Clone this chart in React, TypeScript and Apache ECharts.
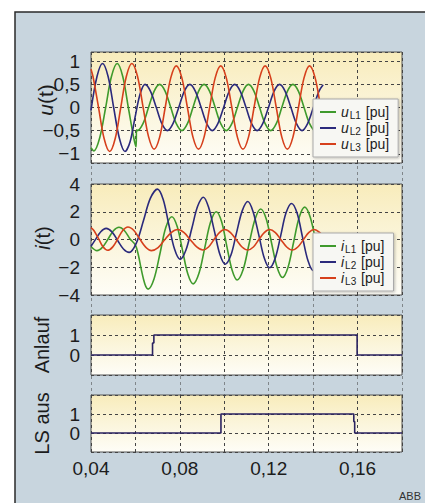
import React, { useEffect, useRef } from 'react';
import * as echarts from 'echarts';

// ---- tick labels ----
const xTickValues = [0.04, 0.08, 0.12, 0.16];
const xTickLabels = ['0,04', '0,08', '0,12', '0,16'];
const uTickValues = [-1, -0.5, 0, 0.5, 1];
const uTickLabels = ['−1', '−0,5', '0', '0,5', '1'];
const iTickValues = [-4, -2, 0, 2, 4];
const iTickLabels = ['−4', '−2', '0', '2', '4'];
const stepTickValues = [0, 1];
const stepTickLabels = ['0', '1'];

// ---- series names ----
const uNames = ['uL1', 'uL2', 'uL3'];
const iNames = ['iL1', 'iL2', 'iL3'];

// ---- voltages [t, u] ----
const uL1: [number, number][] = [
  [0.04, -0.87], [0.0413, -0.94], [0.0439, -0.66], [0.0466, 0], [0.0492, 0.67], [0.0518, 0.95],
  [0.0543, 0.67], [0.0568, 0], [0.0593, -0.67], [0.0603, -0.85], [0.0605, -0.48], [0.0609, -0.5],
  [0.0634, -0.35], [0.0659, 0], [0.0684, 0.35], [0.0709, 0.5], [0.0734, 0.35], [0.0759, 0],
  [0.0784, -0.35], [0.0809, -0.5], [0.0834, -0.35], [0.0859, 0], [0.0884, 0.35], [0.0909, 0.5],
  [0.0934, 0.35], [0.0959, 0], [0.0984, -0.35], [0.1009, -0.5], [0.1034, -0.35], [0.1059, 0],
  [0.1084, 0.35], [0.1109, 0.5], [0.1134, 0.35], [0.1159, 0], [0.1184, -0.35], [0.1209, -0.5],
  [0.1234, -0.35], [0.1259, 0], [0.1284, 0.35], [0.1309, 0.5], [0.1334, 0.35], [0.1359, 0],
  [0.1384, -0.35], [0.1409, -0.5], [0.1445, -0.21],
];
const uL2: [number, number][] = [
  [0.04, -0.06], [0.0427, 0.67], [0.0452, 0.95], [0.0477, 0.67], [0.0502, 0], [0.0528, -0.67],
  [0.0553, -0.95], [0.0576, -0.74], [0.0598, -0.22], [0.0621, 0.29], [0.0643, 0.5], [0.0668, 0.35],
  [0.0694, 0], [0.0719, -0.35], [0.0744, -0.5], [0.0769, -0.35], [0.0795, 0], [0.082, 0.35],
  [0.0845, 0.5], [0.087, 0.35], [0.0896, 0], [0.0921, -0.35], [0.0946, -0.5], [0.0971, -0.35],
  [0.0997, 0], [0.1022, 0.35], [0.1047, 0.5], [0.1072, 0.35], [0.1098, 0], [0.1123, -0.35],
  [0.1148, -0.5], [0.1173, -0.35], [0.1199, 0], [0.1224, 0.35], [0.1249, 0.5], [0.1274, 0.35],
  [0.13, 0], [0.1325, -0.35], [0.135, -0.5], [0.1375, -0.35], [0.1401, 0], [0.1426, 0.35],
  [0.1445, 0.49],
];
const uL3: [number, number][] = [
  [0.04, 0.83], [0.0409, 0.67], [0.0434, 0], [0.0459, -0.67], [0.0484, -0.95], [0.0509, -0.67],
  [0.0534, 0], [0.0559, 0.67], [0.0584, 0.95], [0.0609, 0.68], [0.0634, 0.02], [0.0659, -0.63],
  [0.0684, -0.9], [0.0709, -0.64], [0.0734, 0], [0.0759, 0.64], [0.0784, 0.9], [0.0809, 0.64],
  [0.0834, 0], [0.0859, -0.64], [0.0884, -0.9], [0.0909, -0.64], [0.0934, 0], [0.0959, 0.64],
  [0.0984, 0.9], [0.1009, 0.64], [0.1034, 0], [0.1059, -0.64], [0.1084, -0.9], [0.1109, -0.64],
  [0.1134, 0], [0.1159, 0.64], [0.1184, 0.9], [0.1209, 0.64], [0.1234, 0], [0.1259, -0.64],
  [0.1284, -0.9], [0.1309, -0.64], [0.1334, 0], [0.1359, 0.64], [0.1384, 0.9], [0.1409, 0.64],
  [0.1434, 0], [0.1445, -0.28],
];

// ---- currents [t, i] ----
const iL1: [number, number][] = [
  [0.04, -0.5], [0.0427, -0.8], [0.0452, -0.55], [0.0477, 0.04], [0.0501, 0.63], [0.0526, 0.88],
  [0.055, 0.65], [0.0575, 0.06], [0.06, -0.4], [0.0613, -1.1], [0.0625, -2.05], [0.0637, -2.9],
  [0.0647, -3.4], [0.0657, -3.58], [0.0684, -2.82], [0.0711, -0.97], [0.0737, 0.88], [0.0764, 1.64],
  [0.0788, 0.93], [0.0812, -0.78], [0.0836, -2.49], [0.086, -3.2], [0.0886, -2.44], [0.0912, -0.6],
  [0.0938, 1.24], [0.0964, 2.0], [0.0988, 1.28], [0.1011, -0.46], [0.1035, -2.2], [0.1058, -2.92],
  [0.1085, -2.17], [0.1111, -0.36], [0.1138, 1.45], [0.1164, 2.2], [0.1189, 1.48], [0.1213, -0.27],
  [0.1238, -2.02], [0.1262, -2.74], [0.1287, -2.0], [0.1312, -0.2], [0.1337, 1.59], [0.1362, 2.33],
  [0.1387, 1.61], [0.1412, -0.14], [0.1437, -1.88], [0.1445, -2.18],
];
const iL2: [number, number][] = [
  [0.04, -0.5], [0.0419, -0.03], [0.0444, 0.56], [0.0468, 0.8], [0.0494, 0.55], [0.052, -0.07],
  [0.0546, -0.68], [0.0572, -0.93], [0.0604, -0.26], [0.0636, 1.35], [0.0667, 2.96], [0.0699, 3.63],
  [0.0725, 2.89], [0.075, 1.1], [0.0776, -0.69], [0.0801, -1.43], [0.0827, -0.77], [0.0854, 0.81],
  [0.088, 2.39], [0.0906, 3.05], [0.0929, 2.34], [0.0955, 0.64], [0.098, -1.07], [0.1004, -1.78],
  [0.103, -1.12], [0.1055, 0.48], [0.1081, 2.08], [0.1106, 2.74], [0.1129, 2.04], [0.1155, 0.35],
  [0.118, -1.34], [0.1204, -2.04], [0.1229, -1.36], [0.1254, 0.28], [0.1278, 1.92], [0.1303, 2.6],
  [0.1328, 1.89], [0.1352, 0.18], [0.1377, -1.54], [0.1401, -2.25], [0.1426, -1.55], [0.1445, -0.33],
];
const iL3: [number, number][] = [
  [0.04, 0.86], [0.0413, 0.65], [0.0434, 0.06], [0.0454, -0.53], [0.0475, -0.78], [0.0498, -0.53],
  [0.0521, 0.06], [0.0543, 0.65], [0.0566, 0.9], [0.0593, 0.65], [0.0619, 0.05], [0.0646, -0.55],
  [0.0672, -0.8], [0.0702, -0.58], [0.0731, -0.04], [0.0761, 0.5], [0.079, 0.72], [0.0819, 0.5],
  [0.0847, -0.02], [0.0876, -0.54], [0.0904, -0.76], [0.0929, -0.54], [0.0953, -0.02], [0.0978, 0.5],
  [0.1002, 0.72], [0.1028, 0.5], [0.1054, -0.02], [0.108, -0.54], [0.1106, -0.76], [0.1131, -0.54],
  [0.1155, -0.02], [0.118, 0.5], [0.1204, 0.72], [0.123, 0.5], [0.1255, -0.02], [0.1281, -0.54],
  [0.1306, -0.76], [0.1331, -0.54], [0.1356, -0.02], [0.138, 0.5], [0.1405, 0.72], [0.143, 0.5],
  [0.1445, 0.21],
];

// ---- binary signals ----
const anlauf: [number, number][] = [
  [0.04, 0], [0.0677, 0], [0.0677, 0.6], [0.0683, 0.6], [0.0683, 1], [0.1598, 1], [0.1598, 0], [0.18, 0],
];
const lsAus: [number, number][] = [
  [0.04, 0], [0.0985, 0], [0.0985, 1], [0.1583, 1], [0.1583, 0.6], [0.1587, 0.6], [0.1587, 0], [0.18, 0],
];

const FONT = '"Liberation Sans", Arial, Helvetica, sans-serif';
const GREEN = '#3f9a2c';
const BLUE = '#2b2a7c';
const RED = '#d6401c';
const STEP = '#2a2260';
const TEXT = '#1c1c1c';

const pick = (vals: number[], labels: string[]) => (v: number) => {
  const k = vals.findIndex((x) => Math.abs(x - v) < 1e-6);
  return k >= 0 ? labels[k] : '';
};

const panelBg = () =>
  new echarts.graphic.LinearGradient(0, 0, 0, 1, [
    { offset: 0, color: '#f8ecbb' },
    { offset: 0.5, color: '#fbf5db' },
    { offset: 1, color: '#fefdf7' },
  ]);

const nameRich = (size: number) => ({
  it: { fontStyle: 'italic', fontSize: size, fontFamily: FONT, fill: TEXT, color: TEXT },
  n: { fontSize: size, fontFamily: FONT, fill: TEXT, color: TEXT },
});

export default function App() {
  const ref = useRef<HTMLDivElement>(null);

  useEffect(() => {
    if (!ref.current) return;
    const chart = echarts.init(ref.current, undefined, { renderer: 'svg' });

    const L = 91;
    const W = 311;
    const grids = [
      { left: L, width: W, top: 52, height: 111 },
      { left: L, width: W, top: 184, height: 111 },
      { left: L, width: W, top: 315, height: 60 },
      { left: L, width: W, top: 395, height: 57 },
    ].map((g) => ({
      ...g,
      show: true,
      backgroundColor: panelBg(),
      borderColor: '#555',
      borderWidth: 1,
      z: 1,
    }));
    const bigGrid = { left: L, width: W, top: 52, height: 400, show: false, z: 0 };

    const xAxisBase = (gi: number) => ({
      type: 'value',
      gridIndex: gi,
      min: 0.04,
      max: 0.18,
      interval: 0.02,
      z: 2,
      axisLine: { show: false },
      axisTick: { show: false },
      axisLabel: {
        show: gi === 3,
        formatter: pick(xTickValues, xTickLabels),
        fontSize: 19,
        fontFamily: FONT,
        color: TEXT,
        margin: 7,
        showMinLabel: true,
        showMaxLabel: false,
      },
      splitLine: { show: true, lineStyle: { color: '#444', type: [3, 3], width: 1 } },
    });

    const yAxisBase = (gi: number, extra: any, vals: number[], labels: string[]) => ({
      type: 'value',
      gridIndex: gi,
      z: 2,
      axisLine: { show: false },
      axisTick: { show: false },
      axisLabel: {
        formatter: pick(vals, labels),
        fontSize: 19,
        fontFamily: FONT,
        color: TEXT,
        margin: 11,
      },
      splitLine: { show: true, lineStyle: { color: '#444', type: [3, 3], width: 1 } },
      nameLocation: 'middle',
      nameRotate: 90,
      nameMoveOverlap: false,
      nameTextStyle: { fontSize: 20, fontFamily: FONT, color: TEXT },
      ...extra,
    });

    const legendRich = {
      v: { fontStyle: 'italic', fontSize: 14, fontFamily: FONT, color: TEXT, lineHeight: 16 },
      s: { fontSize: 10, fontFamily: FONT, color: TEXT, lineHeight: 11, verticalAlign: 'bottom', padding: [0, 1, 0, 1] },
      p: { fontSize: 14, fontFamily: FONT, color: TEXT, lineHeight: 16 },
    };
    const legendBase = (names: string[], top: number) => ({
      data: names.map((n) => ({ name: n, icon: 'rect' })),
      orient: 'vertical',
      left: 313,
      top,
      itemWidth: 16,
      itemHeight: 2,
      itemGap: 0,
      padding: [5, 9, 5, 7],
      backgroundColor: '#f7f7f3',
      borderColor: '#a9a9a9',
      borderWidth: 1,
      shadowColor: 'rgba(0,0,0,0.25)',
      shadowBlur: 3,
      shadowOffsetX: 1,
      shadowOffsetY: 1,
      selectedMode: false,
      z: 10,
      textStyle: { fontSize: 14, fontFamily: FONT, color: TEXT, lineHeight: 16, rich: legendRich },
      formatter: (name: string) => `{v|${name.charAt(0)}}{s|${name.slice(1)}}{p| [pu]}`,
    });

    const wave = (name: string, data: [number, number][], color: string, idx: number) => ({
      type: 'line',
      name,
      data,
      xAxisIndex: idx,
      yAxisIndex: idx,
      smooth: 0.33,
      showSymbol: false,
      symbol: 'none',
      z: 3,
      lineStyle: { color, width: 1.6 },
      itemStyle: { color },
    });
    const stepLine = (name: string, data: [number, number][], idx: number) => ({
      type: 'line',
      name,
      data,
      xAxisIndex: idx,
      yAxisIndex: idx,
      showSymbol: false,
      symbol: 'none',
      z: 3,
      lineStyle: { color: STEP, width: 1.6 },
      itemStyle: { color: STEP },
    });

    chart.setOption({
      animation: false,
      backgroundColor: '#ffffff',
      textStyle: { fontFamily: FONT },
      graphic: [
        {
          type: 'rect',
          z: -10,
          silent: true,
          shape: { x: 15, y: 12, width: 430, height: 510 },
          style: { fill: '#c8d5de', stroke: '#2a2a2a', lineWidth: 1.5 },
        },
        {
          type: 'text',
          x: 45,
          y: 100,
          rotation: Math.PI / 2,
          z: 5,
          silent: true,
          style: {
            text: '{it|u}{n|(t)}',
            rich: nameRich(21),
            fontSize: 21,
            fontFamily: FONT,
            fill: TEXT,
            align: 'center',
            verticalAlign: 'middle',
          },
        },
        {
          type: 'text',
          x: 43,
          y: 238,
          rotation: Math.PI / 2,
          z: 5,
          silent: true,
          style: {
            text: '{it|i}{n|(t)}',
            rich: nameRich(20),
            fontSize: 20,
            fontFamily: FONT,
            fill: TEXT,
            align: 'center',
            verticalAlign: 'middle',
          },
        },
        {
          type: 'text',
          right: 4,
          bottom: 2,
          z: 5,
          style: { text: 'ABB', fontSize: 11, fontFamily: FONT, fill: '#333' },
        },
      ],
      grid: [...grids, bigGrid],
      xAxis: [
        xAxisBase(0),
        xAxisBase(1),
        xAxisBase(2),
        xAxisBase(3),
        {
          type: 'value',
          gridIndex: 4,
          min: 0.04,
          max: 0.18,
          interval: 0.02,
          z: 0,
          axisLine: { show: false },
          axisTick: { show: false },
          axisLabel: { show: false },
          splitLine: { show: true, lineStyle: { color: 'rgba(70,70,70,0.55)', type: [3, 3], width: 1 } },
        },
      ],
      yAxis: [
        yAxisBase(0, { min: -1.2, max: 1.2, splitNumber: 5 }, uTickValues, uTickLabels),
        yAxisBase(1, { min: -4, max: 4, interval: 2 }, iTickValues, iTickLabels),
        yAxisBase(2, { min: -1, max: 2, interval: 1, name: 'Anlauf', nameGap: 39 }, stepTickValues, stepTickLabels),
        yAxisBase(3, { min: -1, max: 2, interval: 1, name: 'LS aus', nameGap: 39 }, stepTickValues, stepTickLabels),
        { type: 'value', gridIndex: 4, min: 0, max: 1, show: false },
      ],
      legend: [legendBase(uNames, 99), legendBase(iNames, 233)],
      series: [
        wave(uNames[0], uL1, GREEN, 0),
        wave(uNames[1], uL2, BLUE, 0),
        wave(uNames[2], uL3, RED, 0),
        wave(iNames[0], iL1, GREEN, 1),
        wave(iNames[1], iL2, BLUE, 1),
        wave(iNames[2], iL3, RED, 1),
        stepLine('Anlauf', anlauf, 2),
        stepLine('LS aus', lsAus, 3),
      ],
    });

    return () => chart.dispose();
  }, []);

  return (
    <div
      ref={ref}
      style={{ position: 'fixed', left: 0, top: 0, width: 425, height: 503 }}
    />
  );
}
